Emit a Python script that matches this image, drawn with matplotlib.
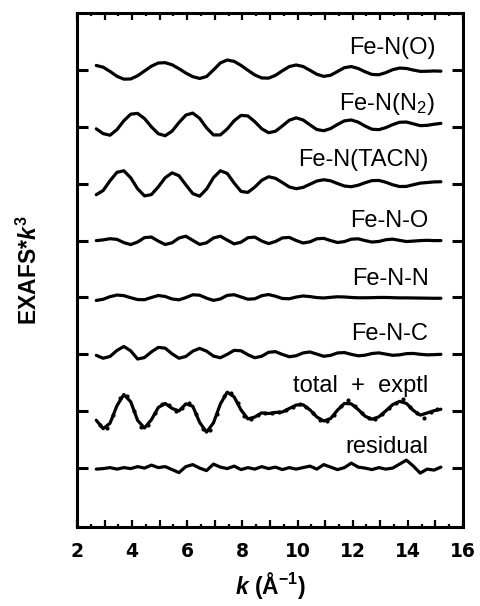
"""
Stacked EXAFS path contributions (k^3 weighted) with total fit,
experimental data and residual.  Writes out.png.
"""

import numpy as np
import matplotlib
matplotlib.use("Agg")
import matplotlib.pyplot as plt
from matplotlib.ticker import MultipleLocator, FuncFormatter

plt.rcParams.update({
    "font.family": "Liberation Sans",
    "font.weight": "bold",
    "axes.labelweight": "bold",
    "mathtext.fontset": "custom",
    "mathtext.rm": "Liberation Sans:bold",
    "mathtext.it": "Liberation Sans:italic:bold",
    "mathtext.bf": "Liberation Sans:bold",
})

# common k grid (A^-1) for every path
k = np.linspace(2.7, 15.2, 51)

fe_n_o = [4.5, 2.8, -1.5, -6.3, -9.2, -9.0, -5.8, -1.0, 3.8, 7.0,
          7.3, 5.2, 1.3, -3.1, -6.7, -8.5, -6.6, 0.0, 7.0, 10.0,
          8.6, 4.6, -0.3, -5.0, -8.0, -8.2, -5.4, -0.8, 3.4, 5.0,
          3.5, -0.3, -4.3, -6.4, -5.3, -1.5, 2.3, 3.4, 1.5, -1.8,
          -4.5, -4.8, -2.7, 0.3, 1.9, 1.5, -0.1, -1.4, -1.3, -1.0, -1.2]

fe_n_n2 = [-2.0, -6.8, -8.4, -2.8, 6.1, 12.7, 13.5, 8.3, 0.0, -6.9,
           -8.9, -4.3, 4.3, 11.8, 13.8, 8.5, -1.0, -8.1, -8.1, -2.1,
           6.1, 11.5, 10.9, 5.2, -1.9, -5.9, -4.4, 0.9, 6.6, 9.0,
           6.9, 2.0, -2.7, -3.9, -1.7, 2.4, 6.0, 6.9, 4.7, 0.8,
           -2.4, -2.8, -0.8, 2.2, 4.6, 4.8, 3.0, 1.2, 1.5, 2.6, 3.5]

fe_n_tacn = [-11.0, -6.8, 3.0, 11.4, 13.0, 5.9, -5.1, -12.2, -10.9, -3.2,
             6.0, 10.9, 8.0, -1.1, -9.9, -12.5, -5.4, 6.0, 13.0, 10.3,
             0.7, -7.7, -8.7, -3.4, 3.4, 7.0, 5.4, 1.2, -3.2, -5.0,
             -3.7, -0.5, 2.7, 4.0, 2.9, 0.2, -2.3, -3.0, -1.5, 1.0,
             3.1, 3.3, 1.5, -1.05, -2.8, -2.7, -1.0, 0.6, 1.2, 1.8, 2.0]

fe_n_o_ms = [0.0, 0.7, 1.9, 1.25, -2.0, -4.0, -1.4, 3.0, 3.55, -0.5,
             -3.9, -2.2, 2.6, 4.4, 0.25, -3.8, -2.2, 2.6, 4.4, 0.5,
             -3.3, -1.6, 2.9, 3.5, -0.4, -3.0, -0.9, 2.7, 3.2, 0.1,
             -2.4, -1.25, 1.8, 2.25, 0.0, -1.9, -1.0, 1.4, 1.8, 0.0,
             -1.45, -0.85, 0.85, 1.45, 0.25, -0.95, -0.5, 0.0, 0.3, 0.0, 0.0]

fe_n_n_ms = [-3.0, -1.8, 0.8, 2.45, 1.85, -0.25, -2.1, -2.25, 0.0, 1.95,
             1.0, -1.5, -2.4, -0.1, 2.7, 2.3, -0.7, -2.9, -1.5, 2.1,
             2.75, 0.5, -1.75, -1.3, 1.75, 2.95, 1.25, -1.0, -1.3, 0.4,
             1.5, 0.9, -0.1, -0.5, 0.15, 0.7, 0.5, 0.0, -0.3, -0.3,
             -0.2, 0.0, 0.0, -0.2, -0.4, -0.4, -0.5, -0.6, -0.7, -0.8, -0.8]

fe_n_c_ms = [-1.0, -3.9, -2.1, 3.9, 7.9, 3.5, -4.7, -3.2, 2.5, 7.0,
             6.2, 0.5, -3.9, -2.1, 3.2, 6.0, 3.2, -1.7, -3.4, 0.0,
             4.0, 3.6, -0.4, -3.4, -1.9, 2.05, 2.7, -0.1, -2.4, -1.4,
             1.4, 2.4, 0.25, -1.95, -1.0, 1.4, 1.8, 0.0, -1.45, -0.85,
             0.85, 1.45, 0.25, -0.95, -0.5, 0.7, 0.9, 0.05, -0.5, -0.3, 0.0]

total_fit = [-9.0, -17.5, -12.0, 5.5, 16.7, 9.5, -9.2, -16.8, -8.5, 3.75,
             7.8, 2.8, 0.3, 7.4, 5.0, -11.2, -21.0, -11.7, 7.2, 19.1,
             14.4, 1.3, -7.7, -5.8, -1.65, -2.3, -1.2, -0.8, 2.75, 6.2,
             6.5, 1.4, -5.75, -9.8, -7.3, 1.1, 7.8, 7.4, 1.7, -5.0,
             -8.0, -5.6, 0.3, 6.6, 9.9, 7.8, 0.8, -3.9, -1.75, 0.5, 2.0]

residual = [-1.0, -0.5, 0.5, -1.0, 0.5, -0.5, 1.5, 0.0, 3.0, 0.5,
            1.5, -1.5, -4.5, 1.5, 3.5, 0.0, -2.5, 4.0, 1.0, -0.5,
            2.0, -1.5, 0.5, -1.0, 1.5, -0.5, 1.0, -1.5, 0.5, -1.0,
            0.5, 2.0, -1.0, 3.5, 1.0, -1.5, 0.5, 5.0, 1.0, 0.0,
            -1.5, 0.5, -1.0, 0.0, 4.0, 8.0, 2.0, -5.0, -1.0, -2.0, 1.0]

# experimental points sit between the grid points of the fit
k_exp = np.linspace(2.825, 15.075, 50)
exptl = [-13.5, -17.0, -4.0, 12.8, 15.6, 0.0, -15.6, -14.0, -2.25, 7.4,
         5.8, 0.4, 3.5, 8.6, -2.6, -18.3, -18.6, -2.5, 15.3, 18.5,
         8.1, -4.5, -7.5, -3.8, -1.5, -2.0, -0.8, 0.9, 4.6, 7.0,
         4.5, -2.2, -8.3, -9.6, -3.5, 5.2, 11.5, 4.9, -1.9, -7.2,
         -7.4, -2.8, 3.7, 8.7, 12.5, 4.5, -2.2, -6.5, -0.7, 1.8]

labels = ["Fe-N(O)", r"Fe-N(N$_\mathregular{2}$)", "Fe-N(TACN)", "Fe-N-O",
          "Fe-N-N", "Fe-N-C", "total  +  exptl", "residual"]
curves = [fe_n_o, fe_n_n2, fe_n_tacn, fe_n_o_ms, fe_n_n_ms, fe_n_c_ms,
          total_fit, residual]

STEP = 57.0
# label anchor (right edge in k, height above the curve's zero line)
label_x = [15.0, 15.0, 14.75, 14.75, 14.75, 14.75, 14.75, 14.75]
label_dy = [16, 17, 18, 14, 13, 14, 19, 15]


def main():
    fig = plt.figure(figsize=(4.81, 6.06), dpi=100)
    ax = fig.add_axes([0.160, 0.1304, 0.8025, 0.848])

    n = len(curves)
    offsets = [STEP * (n - 1 - i) for i in range(n)]
    for y, off in zip(curves, offsets):
        ax.plot(k, np.asarray(y) + off, color="black", lw=2.3,
                solid_joinstyle="round", solid_capstyle="round")
    ax.plot(k_exp, np.asarray(exptl) + offsets[6], ls="none", marker="o",
            ms=2.0, color="black")

    for lab, x, dy, off in zip(labels, label_x, label_dy, offsets):
        ax.text(x, off + dy, lab, ha="right", va="baseline",
                fontsize=17, fontweight="normal")

    ax.set_xlim(2, 16)
    ax.set_ylim(-59, 456)

    ax.xaxis.set_major_locator(MultipleLocator(1))
    ax.xaxis.set_minor_locator(MultipleLocator(0.5))
    ax.xaxis.set_major_formatter(
        FuncFormatter(lambda v, p: f"{v:.0f}" if round(v) % 2 == 0 else ""))
    ax.tick_params(axis="x", which="major", direction="in", top=True,
                   length=5, width=1.6, labelsize=13.5, pad=11)
    ax.tick_params(axis="x", which="minor", direction="in", top=True,
                   length=2.5, width=1.6)
    plt.setp(ax.get_xticklabels(), family="DejaVu Sans", fontweight="bold")

    ax.set_yticks(offsets)
    ax.tick_params(axis="y", which="major", direction="in", left=True,
                   right=True, length=8, width=2.2, labelleft=False)

    for s in ax.spines.values():
        s.set_linewidth(2.2)

    ax.set_xlabel(r"$k$ (Å$^{-1}$)", fontsize=16.5, labelpad=6)
    ax.set_ylabel(r"EXAFS*$k^3$", fontsize=16.5)
    ax.yaxis.set_label_coords(-0.09, 0.5)

    fig.savefig("out.png", dpi=100)
    plt.close(fig)


if __name__ == "__main__":
    main()
